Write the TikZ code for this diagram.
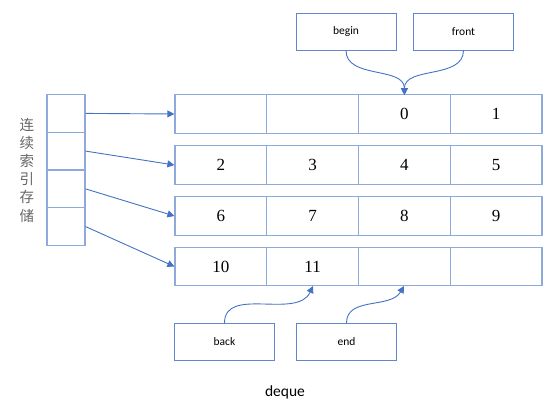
\documentclass[tikz,border=0pt]{standalone}
\usepackage{fontspec}
\setmainfont{Liberation Serif}
\newfontfamily\lblfont{Carlito}
\newfontfamily\cjk{Noto Sans CJK SC}
\usetikzlibrary{arrows.meta}
\definecolor{boxline}{HTML}{8EAADB}
\definecolor{arrline}{HTML}{4472C4}
\definecolor{cjkgray}{HTML}{666666}
\tikzset{
  cell/.style={draw=boxline, line width=1.3pt, inner sep=0pt, minimum width=91.75pt, minimum height=38.5pt},
  num/.style={font=\fontsize{17}{17}\selectfont, inner sep=0pt},
  idx/.style={draw=boxline, line width=1.3pt, inner sep=0pt, minimum width=38pt, minimum height=37.75pt},
  lbl/.style={draw=arrline!85, line width=0.9pt, inner sep=0pt, minimum width=100pt, minimum height=37pt, font=\lblfont\fontsize{11.5}{11.5}\selectfont},
  conn/.style={draw=arrline, line width=0.9pt, -{Triangle[width=7pt,length=7pt]}},
}
\begin{document}
\begin{tikzpicture}[x=1pt,y=-1pt]
\useasboundingbox (0,0) rectangle (558,407);
% index column
\foreach \i/\y in {1/113.4,2/151.1,3/188.9,4/226.6}{
  \node[idx] (i\i) at (66,\y) {};
}
% rows
\foreach \r/\y in {1/114,2/165,3/216,4/266.5}{
  \foreach \c/\x in {1/220.9,2/312.6,3/404.4,4/496.1}{
    \node[cell] (c\r\c) at (\x,\y) {};
  }
}
\node[num] at (c13) {0};
\node[num] at (c14) {1};
\node[num] at (c21) {2};
\node[num] at (c22) {3};
\node[num] at (c23) {4};
\node[num] at (c24) {5};
\node[num] at (c31) {6};
\node[num] at (c32) {7};
\node[num] at (c33) {8};
\node[num] at (c34) {9};
\node[num] at (c41) {10};
\node[num] at (c42) {11};
% connectors from index
\foreach \i in {1,2,3,4}{
  \draw[conn] (i\i.east) -- (c\i1.west);
}
% label boxes
\node[lbl] (begin) at (346,31.5) {begin};
\node[lbl] (front) at (463.5,31.5) {front};
\node[lbl] (back) at (224.5,342) {back};
\node[lbl] (end) at (346.5,342) {end};
\coordinate (b0) at (404.4,95);
\draw[conn] (begin.south) to[out=-90,in=90] (b0);
\draw[conn] (front.south) to[out=-90,in=90] (b0);
\coordinate (t11) at (313,286);
\coordinate (te) at (404,286);
\draw[conn] (back.north) to[out=90,in=-115] (t11);
\draw[conn] (end.north) to[out=90,in=-120] (te);
% texts
\node[font=\lblfont\fontsize{15.5}{15.5}\selectfont] (title) at (285,392) {deque};
\node[font=\cjk\fontsize{14.5}{18.2}\selectfont, text=cjkgray, align=center, inner sep=0pt] (vt) at (27,170) {连\\续\\索\\引\\存\\储};
\end{tikzpicture}
\end{document}
